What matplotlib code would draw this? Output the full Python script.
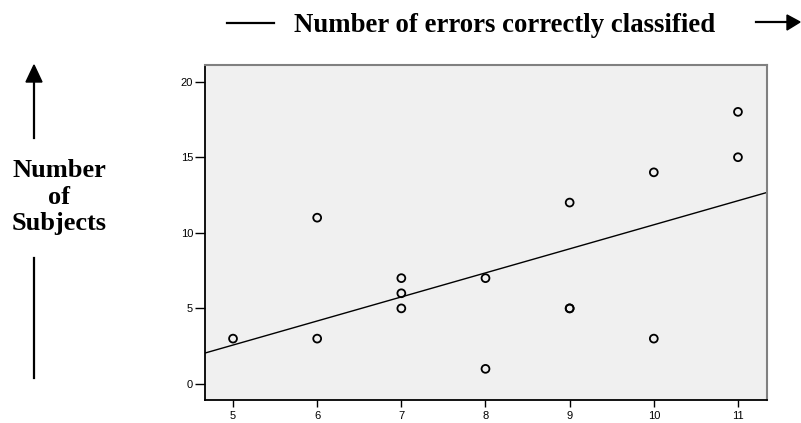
import numpy as np
import matplotlib.pyplot as plt
from matplotlib.patches import Polygon

errors = [5, 6, 6, 7, 7, 7, 8, 8, 9, 9, 9, 10, 10, 11, 11]
subjects = [3, 3, 11, 7, 6, 5, 7, 1, 12, 5, 5, 14, 3, 18, 15]
x_ticks = [5, 6, 7, 8, 9, 10, 11]
y_ticks = [0, 5, 10, 15, 20]

fig = plt.figure(figsize=(8.01, 4.23), dpi=100)
ax = fig.add_axes([205 / 801, 1 - 400 / 423, 562 / 801, 335 / 423])
ax.set_facecolor('#f0f0f0')

ax.scatter(errors, subjects, s=32, facecolors='none', edgecolors='black',
           linewidths=1.3, zorder=3)

# least squares fit line
slope, intercept = np.polyfit(errors, subjects, 1)
xlim = (4.667, 11.345)
xs = np.array(xlim)
ax.plot(xs, slope * xs + intercept, color='black', lw=1)

ax.set_xlim(xlim)
ax.set_ylim(-1.06, 21.1)
ax.set_xticks(x_ticks)
ax.set_yticks(y_ticks)
ax.tick_params(axis='y', length=7, width=1, labelsize=8, pad=1.5)
ax.tick_params(axis='x', length=5, width=1, labelsize=8, pad=3)
for lab in ax.get_xticklabels() + ax.get_yticklabels():
    lab.set_fontfamily('Liberation Sans')
for side in ['top', 'right']:
    ax.spines[side].set_color('#808080')
    ax.spines[side].set_linewidth(1.5)
for side in ['left', 'bottom']:
    ax.spines[side].set_linewidth(1.3)

# overlay in pixel coords for the header/side labels and arrows
ov = fig.add_axes([0, 0, 1, 1], facecolor='none')
ov.set_axis_off()
ov.set_xlim(0, 801)
ov.set_ylim(423, 0)

ov.text(505, 25, 'Number of errors correctly classified',
        family='Liberation Serif', weight='bold', fontsize=19.3,
        ha='center', va='center')
ov.plot([227, 274], [23, 23], color='black', lw=1.6)
ov.plot([756, 788], [22, 22], color='black', lw=1.6)
ov.add_patch(Polygon([[787, 15], [800, 22], [787, 30]], closed=True,
                     color='black'))

ov.text(59, 197, 'Number\nof\nSubjects',
        family='Liberation Serif', weight='bold', fontsize=19,
        ha='center', va='center', linespacing=1.22)
ov.plot([34, 34], [80, 138], color='black', lw=1.6)
ov.add_patch(Polygon([[26, 82], [34, 65], [42, 82]], closed=True,
                     color='black'))
ov.plot([34, 34], [258, 378], color='black', lw=1.6)

fig.savefig('out.png', dpi=100)
